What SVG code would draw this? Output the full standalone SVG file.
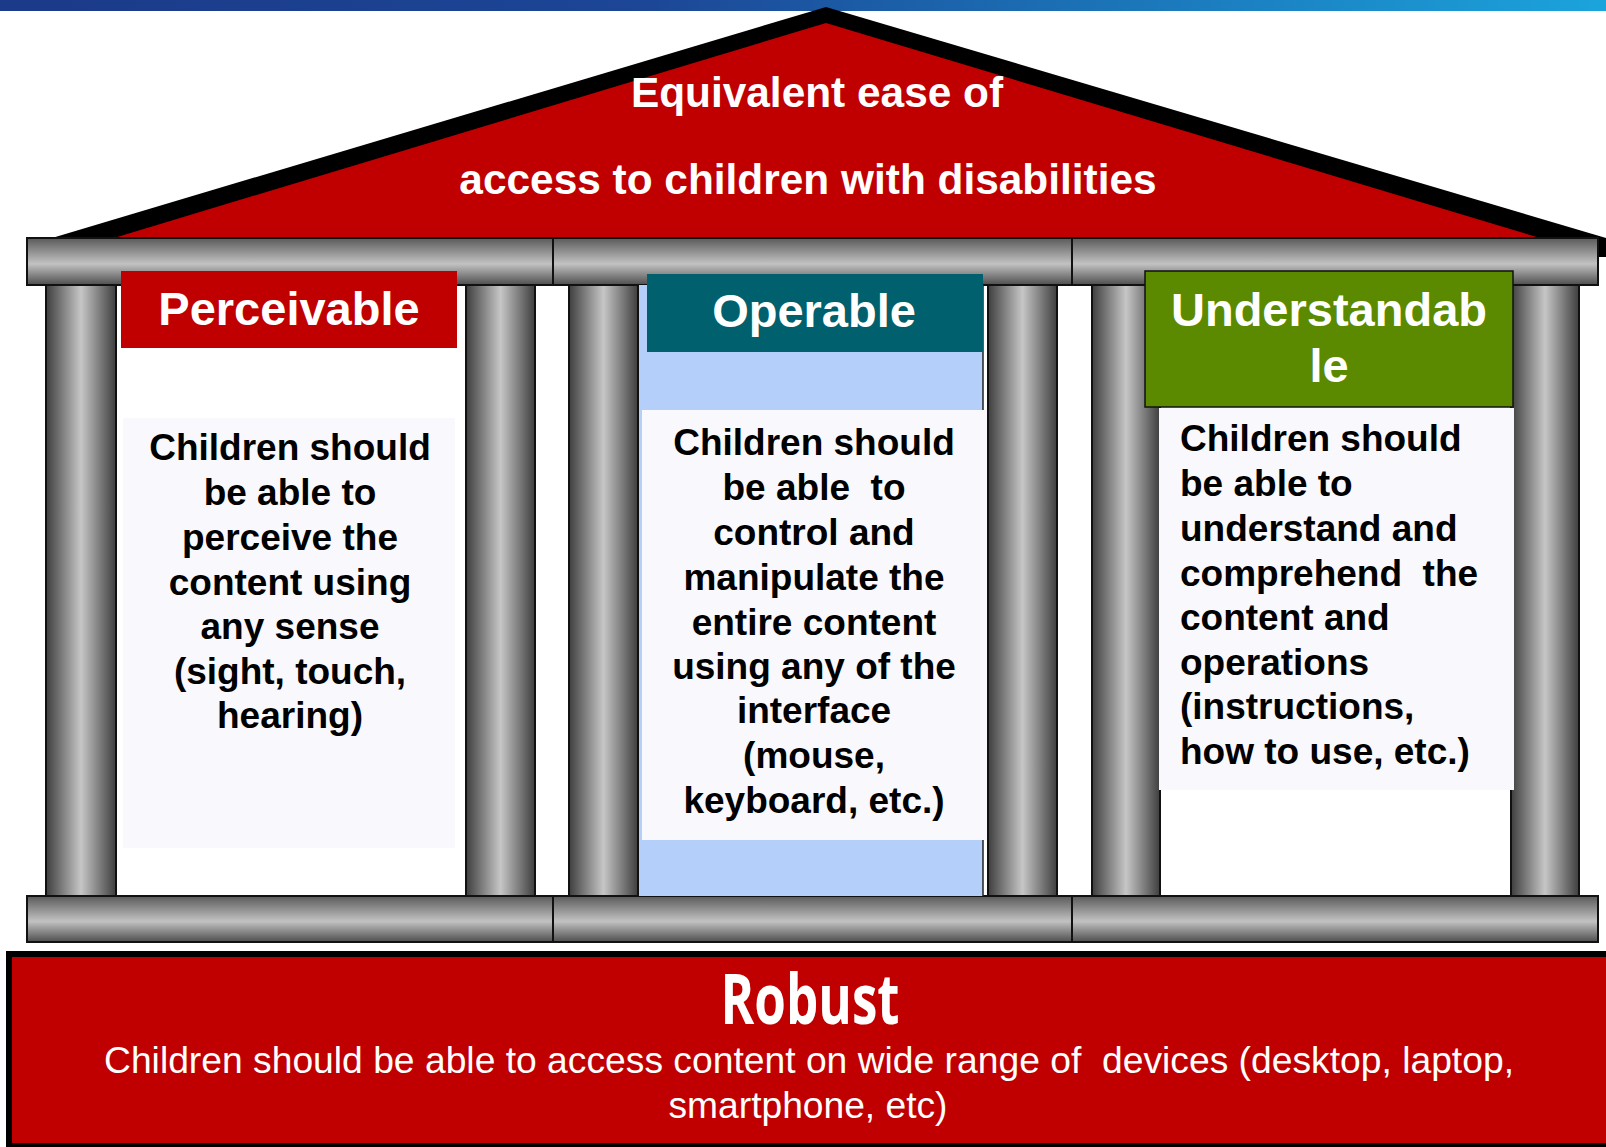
<svg xmlns="http://www.w3.org/2000/svg" width="1606" height="1147" viewBox="0 0 1606 1147">
<defs>
<linearGradient id="topbar" x1="0" y1="0" x2="1" y2="0">
<stop offset="0" stop-color="#1b3a89"/>
<stop offset="0.4" stop-color="#1c4696"/>
<stop offset="1" stop-color="#1ba4dc"/>
</linearGradient>
<linearGradient id="beam" x1="0" y1="0" x2="0" y2="1">
<stop offset="0" stop-color="#5a5a5a"/>
<stop offset="0.55" stop-color="#c2c2c2"/>
<stop offset="1" stop-color="#4e4e4e"/>
</linearGradient>
<linearGradient id="col" x1="0" y1="0" x2="1" y2="0">
<stop offset="0" stop-color="#3e3e3e"/>
<stop offset="0.5" stop-color="#c6c6c6"/>
<stop offset="1" stop-color="#3e3e3e"/>
</linearGradient>
<style>
.beam{fill:url(#beam);stroke:#111;stroke-width:2}
.col{fill:url(#col);stroke:#111;stroke-width:2}
.box{fill:#f9f8fd}
.body{font-family:"Liberation Sans",Arial,sans-serif;font-weight:bold;font-size:37px;fill:#000}
.head{font-family:"Liberation Sans",Arial,sans-serif;font-weight:bold;font-size:47px;fill:#fff;text-anchor:middle}
.roof{font-family:"Liberation Sans",Arial,sans-serif;font-weight:bold;font-size:42.4px;fill:#fff;text-anchor:middle}
.mid{text-anchor:middle}
.pre{white-space:pre}
</style>
</defs>
<rect x="0" y="0" width="1606" height="11" fill="url(#topbar)"/>
<g id="roof">
<polygon points="826,7 52,238 1606,238" fill="#000"/>
<rect x="1597" y="238" width="9" height="19" fill="#000"/>
<polygon points="826,23 114,238 1540,238" fill="#c00000"/>
<text class="roof" x="817" y="107">Equivalent ease of</text>
<text class="roof" x="808" y="194">access to children with disabilities</text>
</g>
<g id="structure">
<rect class="beam" x="27" y="238" width="526" height="47"/>
<rect class="beam" x="553" y="238" width="519" height="47"/>
<rect class="beam" x="1072" y="238" width="526" height="47"/>
<rect class="col" x="46" y="285" width="70" height="611"/>
<rect class="col" x="466" y="285" width="69" height="611"/>
<rect class="col" x="569" y="285" width="69" height="611"/>
<rect class="col" x="988" y="285" width="69" height="611"/>
<rect class="col" x="1092" y="285" width="68" height="611"/>
<rect class="col" x="1511" y="285" width="68" height="611"/>
<rect class="beam" x="27" y="896" width="526" height="46"/>
<rect class="beam" x="553" y="896" width="519" height="46"/>
<rect class="beam" x="1072" y="896" width="526" height="46"/>
</g>
<g id="perceivable">
<rect x="121" y="271" width="336" height="77" fill="#c00000"/>
<text class="head" x="289" y="325">Perceivable</text>
<rect class="box" x="123" y="418" width="332" height="430"/>
<text class="body mid" x="290" y="460">Children should</text>
<text class="body mid" x="290" y="505">be able to</text>
<text class="body mid" x="290" y="550">perceive the</text>
<text class="body mid" x="290" y="595">content using</text>
<text class="body mid" x="290" y="639">any sense</text>
<text class="body mid" x="290" y="684">(sight, touch,</text>
<text class="body mid" x="290" y="728">hearing)</text>
</g>
<g id="operable">
<rect x="639" y="285" width="344" height="611" fill="#b4cffa"/>
<line x1="983" y1="285" x2="983" y2="896" stroke="#222" stroke-width="1.5"/>
<rect x="647" y="274" width="336" height="78" fill="#00606d"/>
<text class="head" x="814" y="327">Operable</text>
<rect class="box" x="642" y="410" width="345" height="430"/>
<text class="body mid" x="814" y="455">Children should</text>
<text class="body mid pre" x="814" y="500">be able  to</text>
<text class="body mid" x="814" y="545">control and</text>
<text class="body mid" x="814" y="590">manipulate the</text>
<text class="body mid" x="814" y="635">entire content</text>
<text class="body mid" x="814" y="679">using any of the</text>
<text class="body mid" x="814" y="723">interface</text>
<text class="body mid" x="814" y="768">(mouse,</text>
<text class="body mid" x="814" y="813">keyboard, etc.)</text>
</g>
<g id="understandable">
<rect x="1145" y="271" width="368" height="136" fill="#5b8a00" stroke="#111" stroke-width="1.5"/>
<text class="head" x="1329" y="326">Understandab</text>
<text class="head" x="1329" y="382">le</text>
<rect class="box" x="1159" y="408" width="355" height="382"/>
<text class="body" x="1180" y="451">Children should</text>
<text class="body" x="1180" y="496">be able to</text>
<text class="body" x="1180" y="541">understand and</text>
<text class="body pre" x="1180" y="586">comprehend  the</text>
<text class="body" x="1180" y="630">content and</text>
<text class="body" x="1180" y="675">operations</text>
<text class="body" x="1180" y="719">(instructions,</text>
<text class="body" x="1180" y="764">how to use, etc.)</text>
</g>
<g id="robust">
<rect x="9" y="954" width="1620" height="192" fill="#c00000" stroke="#000" stroke-width="6"/>
<text x="810" y="1024" font-family="'Open Sans',sans-serif" font-weight="bold" font-size="69" fill="#fff" text-anchor="middle" textLength="179" lengthAdjust="spacingAndGlyphs">Robust</text>
<text class="pre" x="809" y="1073" font-family="'Liberation Sans',Arial,sans-serif" font-size="36" fill="#fff" text-anchor="middle" textLength="1410" lengthAdjust="spacingAndGlyphs">Children should be able to access content on wide range of  devices (desktop, laptop,</text>
<text x="808" y="1118" font-family="'Liberation Sans',Arial,sans-serif" font-size="36" fill="#fff" text-anchor="middle" textLength="279" lengthAdjust="spacingAndGlyphs">smartphone, etc)</text>
</g>
</svg>
